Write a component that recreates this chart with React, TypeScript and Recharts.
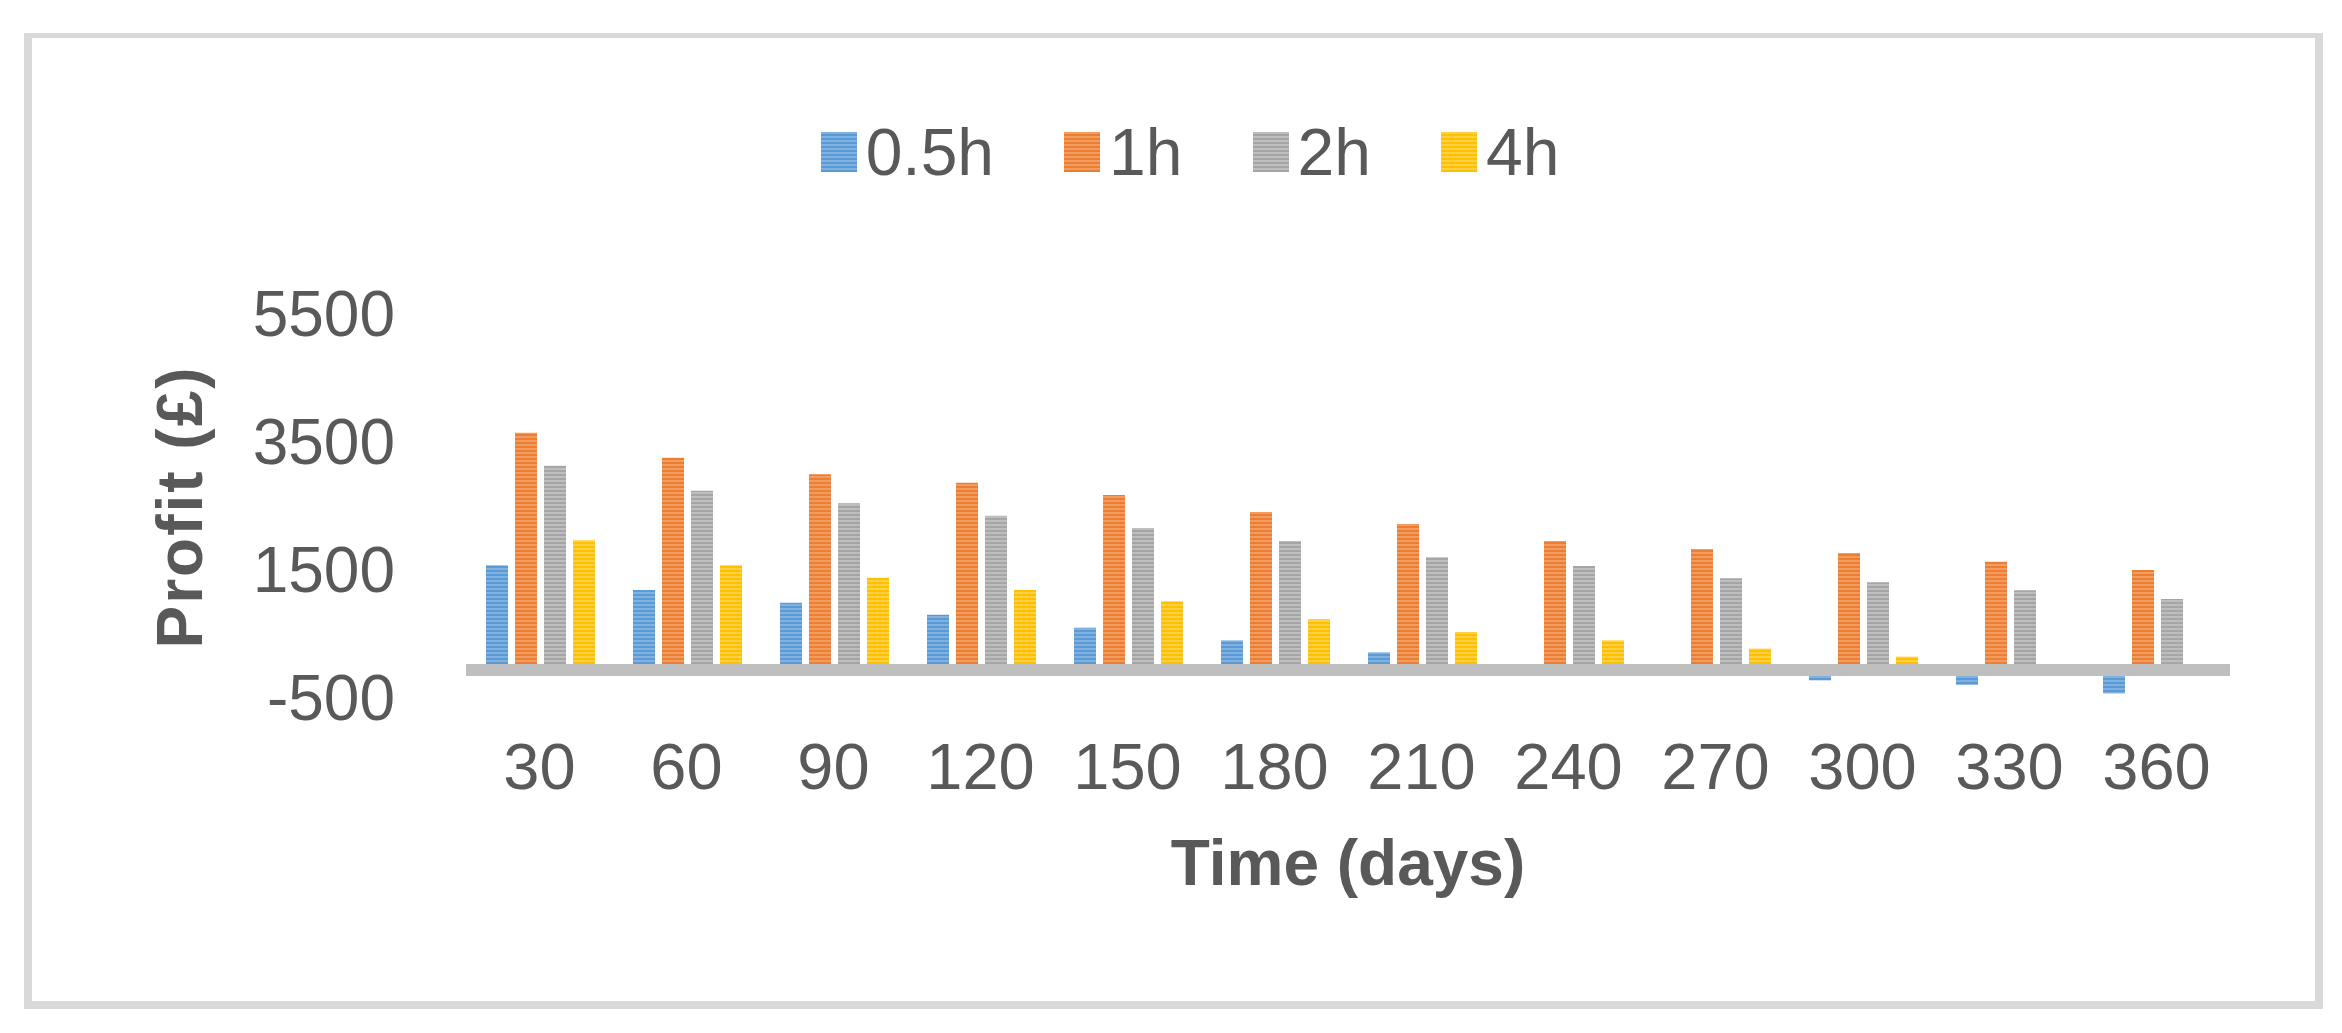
import { Bar, BarChart, ReferenceLine, XAxis, YAxis, Label } from "recharts";

// Profit by holding time, grouped per 30-day step. Values read off the
// reference picture; 0.5h dips below zero after day 270.

const DAYS = ["30", "60", "90", "120", "150", "180", "210", "240", "270", "300", "330", "360"];
const H05 = [1557, 1172, 974, 786, 583, 385, 198, 0, 0, -240, -310, -445];
const H1 = [3630, 3240, 2979, 2849, 2656, 2391, 2203, 1937, 1812, 1750, 1615, 1484];
const H2 = [3115, 2724, 2526, 2333, 2141, 1937, 1682, 1547, 1354, 1292, 1167, 1031];
const H4 = [1948, 1557, 1365, 1172, 995, 714, 516, 385, 255, 130, 0, 0];
const Y_TICKS = [-500, 1500, 3500, 5500];

const SERIES = [
  { key: "h05", label: "0.5h", base: "#5B9BD5", light: "#80B1DF" },
  { key: "h1", label: "1h", base: "#ED7D31", light: "#F19D62" },
  { key: "h2", label: "2h", base: "#A5A5A5", light: "#BEBEBE" },
  { key: "h4", label: "4h", base: "#FFC000", light: "#FFD046" },
];

const INK = "#595959";
const FONT = "'Liberation Sans', Arial, sans-serif";

const data = DAYS.map((d, i) => ({ day: d, h05: H05[i], h1: H1[i], h2: H2[i], h4: H4[i] }));

// thick grey zero line, sits just below the value 0 like the Excel axis
function ZeroBand(props: any) {
  const { x1, x2, y1 } = props;
  return <rect x={x1} y={y1 - 1} width={x2 - x1} height={12} fill="#BFBFBF" />;
}

function YTitle(props: any) {
  const vb = props.viewBox || {};
  const cx = vb.x + 14;
  const cy = vb.y + vb.height / 2 + 2;
  return (
    <text
      x={cx}
      y={cy}
      transform={`rotate(-90, ${cx}, ${cy})`}
      textAnchor="middle"
      dominantBaseline="central"
      fill={INK}
      fontSize={64}
      fontWeight="bold"
      fontFamily={FONT}
      letterSpacing={2}
    >
      Profit (£)
    </text>
  );
}

function Swatch({ s }: { s: (typeof SERIES)[number] }) {
  return (
    <div
      style={{
        width: 36,
        height: 40,
        background: `repeating-linear-gradient(to bottom, ${s.light} 0px, ${s.light} 2px, ${s.base} 2px, ${s.base} 4px)`,
      }}
    />
  );
}

export default function App() {
  return (
    <div
      style={{
        position: "absolute",
        left: 0,
        top: 0,
        width: 2342,
        height: 1033,
        background: "#fff",
        fontFamily: FONT,
      }}
    >
      <div
        style={{
          position: "absolute",
          left: 24,
          top: 33,
          width: 2299,
          height: 976,
          boxSizing: "border-box",
          borderStyle: "solid",
          borderColor: "#D9D9D9",
          borderWidth: "5px 8px 8px 8px",
        }}
      />

      <div
        style={{
          position: "absolute",
          left: 0,
          top: 124,
          width: 2380,
          display: "flex",
          justifyContent: "center",
          alignItems: "center",
          gap: 70,
        }}
      >
        {SERIES.map((s) => (
          <div key={s.key} style={{ display: "flex", alignItems: "center", gap: 9 }}>
            <Swatch s={s} />
            <span style={{ fontSize: 66, color: INK, lineHeight: "56px" }}>{s.label}</span>
          </div>
        ))}
      </div>

      <div style={{ position: "absolute", left: 0, top: 0 }}>
        <BarChart
          width={2342}
          height={1033}
          data={data}
          margin={{ top: 313, right: 112, left: 166, bottom: 136 }}
          barCategoryGap={20}
          barGap={7}
        >
          <defs>
            {SERIES.map((s) => (
              <pattern
                key={s.key}
                id={`stripe-${s.key}`}
                width={4}
                height={4}
                patternUnits="userSpaceOnUse"
              >
                <rect width={4} height={4} fill={s.base} />
                <rect width={4} height={2} fill={s.light} />
              </pattern>
            ))}
          </defs>
          <XAxis
            dataKey="day"
            height={200}
            interval={0}
            axisLine={false}
            tickLine={false}
            tickMargin={40}
            tick={{ fontSize: 65, fill: INK, fontFamily: FONT }}
          >
            <Label
              value="Time (days)"
              position="insideBottom"
              offset={12}
              fill={INK}
              fontSize={64}
              fontWeight="bold"
              fontFamily={FONT}
            />
          </XAxis>
          <YAxis
            width={300}
            domain={[-500, 5500]}
            ticks={Y_TICKS}
            axisLine={false}
            tickLine={false}
            tickMargin={65}
            tick={{ fontSize: 64, fill: INK, fontFamily: FONT }}
          >
            <Label content={YTitle} />
          </YAxis>
          {SERIES.map((s) => (
            <Bar
              key={s.key}
              dataKey={s.key}
              name={s.label}
              fill={`url(#stripe-${s.key})`}
              isAnimationActive={false}
            />
          ))}
          <ReferenceLine y={0} shape={ZeroBand} />
        </BarChart>
      </div>
    </div>
  );
}
